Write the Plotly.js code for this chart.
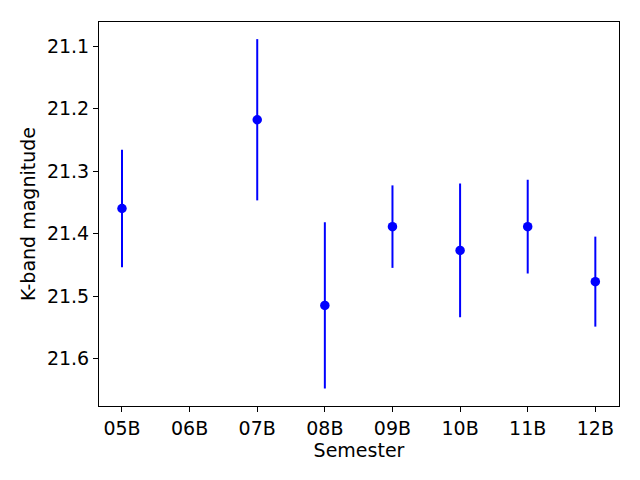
<!DOCTYPE html>
<html>
<head>
<meta charset="utf-8">
<script src="https://cdn.plot.ly/plotly-3.0.1.min.js"></script>
<style>
  html, body { margin: 0; padding: 0; background: #fff; }
  #chart { width: 640px; height: 480px; }
</style>
</head>
<body>
<div id="chart"></div>
<script>
// semester labels on the x axis (06B has no measurement)
const semesterTicks = ['05B', '06B', '07B', '08B', '09B', '10B', '11B', '12B'];

// observed semesters, K-band magnitudes and their 1-sigma errors
const obsSemesters = ['05B', '07B', '08B', '09B', '10B', '11B', '12B'];
const kMag = [21.360, 21.218, 21.515, 21.389, 21.427, 21.389, 21.477];
const kErr = [0.094, 0.129, 0.133, 0.066, 0.107, 0.075, 0.072];

const magTicks = [21.1, 21.2, 21.3, 21.4, 21.5, 21.6];

const xIdx = obsSemesters.map(s => semesterTicks.indexOf(s));

const trace = {
    x: xIdx,
    y: kMag,
    mode: 'markers',
    type: 'scatter',
    marker: { color: '#0000ff', size: 9.5 },
    error_y: {
        type: 'data',
        array: kErr,
        visible: true,
        color: '#0000ff',
        thickness: 2,
        width: 0
    },
    hoverinfo: 'x+y'
};

const font = { family: 'DejaVu Sans, sans-serif', size: 19, color: '#000' };

const layout = {
    width: 640,
    height: 480,
    margin: { l: 99, r: 21, t: 22, b: 74 },
    paper_bgcolor: '#fff',
    plot_bgcolor: '#fff',
    showlegend: false,
    font: font,
    xaxis: {
        range: [-0.34, 7.35],
        tickvals: semesterTicks.map((s, i) => i),
        ticktext: semesterTicks,
        ticks: 'outside',
        ticklen: 5,
        tickwidth: 1,
        tickcolor: '#000',
        showgrid: false,
        zeroline: false,
        showline: true,
        mirror: true,
        linecolor: '#000',
        linewidth: 1,
        tickfont: font,
        title: { text: 'Semester', font: font, standoff: 4 }
    },
    yaxis: {
        range: [21.676, 21.0616],
        tickvals: magTicks,
        ticktext: magTicks.map(v => v.toFixed(1)),
        ticks: 'outside',
        ticklen: 5,
        tickwidth: 1,
        tickcolor: '#000',
        showgrid: false,
        zeroline: false,
        showline: true,
        mirror: true,
        linecolor: '#000',
        linewidth: 1,
        tickfont: font,
        title: { text: 'K-band magnitude', font: font, standoff: 6 }
    }
};

Plotly.newPlot('chart', [trace], layout, { staticPlot: true });
</script>
</body>
</html>
